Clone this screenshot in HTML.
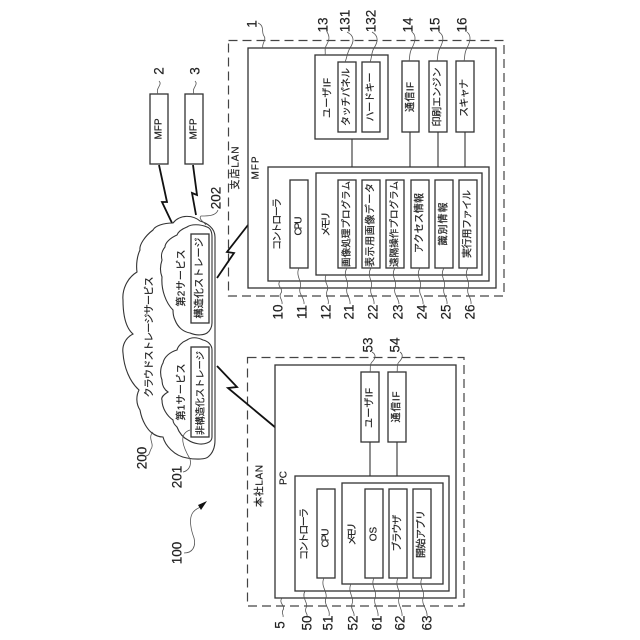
<!DOCTYPE html>
<html><head><meta charset="utf-8"><style>
html,body{margin:0;padding:0;background:#fff;width:640px;height:640px;overflow:hidden}
svg{display:block}
text{font-family:"Liberation Sans","Noto Sans CJK JP",sans-serif;font-size:10px;fill:#222;stroke:#222;stroke-width:.2;text-anchor:middle;dominant-baseline:central}
.n{font-size:13.5px}
.b{fill:#fff;stroke:#333;stroke-width:1.3}
.d{fill:none;stroke:#444;stroke-width:1.2;stroke-dasharray:9 5}
.l{fill:none;stroke:#333;stroke-width:1.1}
.s{fill:none;stroke:#555;stroke-width:.8}
.z{fill:none;stroke:#111;stroke-width:1.8}
.c{fill:#fff;stroke:#333;stroke-width:1.1}
</style></head><body>
<svg width="640" height="640" viewBox="0 0 640 640" xmlns="http://www.w3.org/2000/svg">
<rect class="d" x="228.500" y="40.500" width="275.500" height="255.500"/>
<rect class="d" x="247.500" y="357.500" width="216.500" height="248.500"/>
<polyline class="z" points="159,165 167,202 162,202 172,223"/>
<polyline class="z" points="193,165 197,195 192,193 196,215"/>
<polyline class="z" points="248,225 227,252 234,253 217,278"/>
<polyline class="z" points="217,366 237,387 228,388 276,428"/>
<rect class="b" x="150" y="94" width="18" height="70"/>
<rect class="b" x="185" y="94" width="18" height="70"/>
<text transform="translate(159,129) rotate(-90)">MFP</text>
<text transform="translate(194,129) rotate(-90)">MFP</text>
<path class="c" d="M215,440V237C215,228 207,223 200,221C193,215 180,214 173,223C163,223 155,226 153,230C145,236 139,245 140,250C137,256 136,265 137,272C127,278 122,290 123,300C123,315 126,328 133,334C125,338 122,346 123,353C124,368 130,382 139,390C136,396 136,404 140,410C142,422 148,430 152,433C156,436 160,437 163,437C165,445 174,456 187,458C197,460 206,459 208,457C213,453 215,447 215,440Z"/>
<path class="c" d="M212,323V237C212,231 210,228 207,227C200,224 191,224 187,227C182,229 178,232 177,235C170,238 165,243 165,247C161,252 161,256 162,260C160,266 160,272 162,277C161,290 166,303 173,310C173,314 174,318 175,320C178,328 184,332 190,333C197,336 204,335 207,333C210,331 212,327 212,323Z"/>
<path class="c" d="M212,437V350C212,345 208,341 203,340C197,337 191,337 187,340C182,342 178,346 177,350C170,352 164,357 163,363C160,368 160,375 162,380C162,386 165,390 168,392C163,395 161,398 162,400C162,408 167,416 173,420C173,423 175,425 177,427C180,435 184,438 188,440C194,444 202,445 207,443C210,442 212,440 212,437Z"/>
<rect class="b" x="191" y="234" width="18" height="89"/>
<rect class="b" x="191" y="347" width="18" height="90"/>
<text transform="translate(150,337) rotate(-90)" textLength="121" lengthAdjust="spacing">クラウドストレージサービス</text>
<text transform="translate(182,278) rotate(-90)" textLength="57" lengthAdjust="spacing">第2サービス</text>
<text transform="translate(182,392) rotate(-90)" textLength="57" lengthAdjust="spacing">第1サービス</text>
<text transform="translate(200,278) rotate(-90)" textLength="81" lengthAdjust="spacing">構造化ストレージ</text>
<text transform="translate(200,393) rotate(-90)" textLength="84" lengthAdjust="spacing" style="font-size:9.400px">非構造化ストレージ</text>
<text transform="translate(236,168) rotate(-90)" textLength="43" lengthAdjust="spacing">支店LAN</text>
<rect class="b" x="248" y="48" width="248" height="240"/>
<text transform="translate(256,168) rotate(-90)" textLength="23" lengthAdjust="spacing">MFP</text>
<path class="l" d="M352,139V167M410,132V167M438,132V167M465,132V167"/>
<rect class="b" x="315" y="55" width="73" height="84"/>
<rect class="b" x="338" y="62" width="18" height="70"/>
<rect class="b" x="362" y="62" width="18" height="70"/>
<rect class="b" x="402" y="61" width="17" height="71"/>
<rect class="b" x="429" y="61" width="18" height="71"/>
<rect class="b" x="456" y="61" width="18" height="71"/>
<rect class="b" x="268" y="167" width="221" height="114"/>
<rect class="b" x="290" y="180" width="18" height="88"/>
<rect class="b" x="316" y="173" width="166" height="102"/>
<rect class="b" x="338" y="180" width="18" height="88"/>
<rect class="b" x="362" y="180" width="18" height="88"/>
<rect class="b" x="386" y="180" width="18" height="88"/>
<rect class="b" x="411" y="180" width="18" height="88"/>
<rect class="b" x="435" y="180" width="18" height="88"/>
<rect class="b" x="459" y="180" width="18" height="88"/>
<text transform="translate(328,98) rotate(-90)" textLength="40" lengthAdjust="spacing">ユーザIF</text>
<text transform="translate(347,97) rotate(-90)" textLength="58" lengthAdjust="spacing">タッチパネル</text>
<text transform="translate(371,97) rotate(-90)" textLength="49" lengthAdjust="spacing">ハードキー</text>
<text transform="translate(411,97) rotate(-90)" textLength="30" lengthAdjust="spacing">通信IF</text>
<text transform="translate(438,97) rotate(-90)" textLength="59" lengthAdjust="spacing">印刷エンジン</text>
<text transform="translate(465,98) rotate(-90)" textLength="38" lengthAdjust="spacing">スキャナ</text>
<text transform="translate(278,224) rotate(-90)" textLength="52" lengthAdjust="spacing">コントローラ</text>
<text transform="translate(299,226) rotate(-90)" textLength="19" lengthAdjust="spacing">CPU</text>
<text transform="translate(327,224) rotate(-90)" textLength="25" lengthAdjust="spacing">メモリ</text>
<text transform="translate(347,224) rotate(-90)" textLength="86" lengthAdjust="spacing" style="font-size:9.500px">画像処理プログラム</text>
<text transform="translate(371,225) rotate(-90)" textLength="84" lengthAdjust="spacing">表示用画像データ</text>
<text transform="translate(395,224) rotate(-90)" textLength="86" lengthAdjust="spacing" style="font-size:9.500px">遠隔操作プログラム</text>
<text transform="translate(420,223) rotate(-90)" textLength="60" lengthAdjust="spacing">アクセス情報</text>
<text transform="translate(444,224) rotate(-90)" textLength="43" lengthAdjust="spacing">識別情報</text>
<text transform="translate(468,224) rotate(-90)" textLength="68" lengthAdjust="spacing">実行用ファイル</text>
<rect class="b" x="275" y="365" width="181" height="233"/>
<path class="l" d="M370,442V476M397,442V476"/>
<rect class="b" x="361" y="372" width="18" height="70"/>
<rect class="b" x="388" y="372" width="18" height="70"/>
<rect class="b" x="295" y="476" width="154" height="115"/>
<rect class="b" x="317" y="489" width="18" height="89"/>
<rect class="b" x="342" y="483" width="101" height="101"/>
<rect class="b" x="365" y="489" width="18" height="89"/>
<rect class="b" x="389" y="489" width="18" height="89"/>
<rect class="b" x="413" y="489" width="18" height="89"/>
<text transform="translate(260,486) rotate(-90)" textLength="42" lengthAdjust="spacing">本社LAN</text>
<text transform="translate(284,478) rotate(-90)">PC</text>
<text transform="translate(370,408) rotate(-90)" textLength="40" lengthAdjust="spacing">ユーザIF</text>
<text transform="translate(397,407) rotate(-90)" textLength="31" lengthAdjust="spacing">通信IF</text>
<text transform="translate(305,534) rotate(-90)" textLength="52" lengthAdjust="spacing">コントローラ</text>
<text transform="translate(326,538) rotate(-90)" textLength="19" lengthAdjust="spacing">CPU</text>
<text transform="translate(353,534) rotate(-90)" textLength="23" lengthAdjust="spacing">メモリ</text>
<text transform="translate(374,534) rotate(-90)">OS</text>
<text transform="translate(398,533) rotate(-90)" textLength="37" lengthAdjust="spacing">ブラウザ</text>
<text transform="translate(422,534) rotate(-90)" textLength="48" lengthAdjust="spacing">開始アプリ</text>
<g class="nums">
<text class="n" transform="translate(159,71) rotate(-90)">2</text>
<text class="n" transform="translate(195,71) rotate(-90)">3</text>
<text class="n" transform="translate(252,24) rotate(-90)">1</text>
<text class="n" transform="translate(323,25) rotate(-90)">13</text>
<text class="n" transform="translate(345,21) rotate(-90)">131</text>
<text class="n" transform="translate(371,21) rotate(-90)">132</text>
<text class="n" transform="translate(408,25) rotate(-90)">14</text>
<text class="n" transform="translate(435,25) rotate(-90)">15</text>
<text class="n" transform="translate(462,25) rotate(-90)">16</text>
<text class="n" transform="translate(278,312) rotate(-90)">10</text>
<text class="n" transform="translate(302,312) rotate(-90)">11</text>
<text class="n" transform="translate(326,312) rotate(-90)">12</text>
<text class="n" transform="translate(349,312) rotate(-90)">21</text>
<text class="n" transform="translate(373,312) rotate(-90)">22</text>
<text class="n" transform="translate(398,312) rotate(-90)">23</text>
<text class="n" transform="translate(422,312) rotate(-90)">24</text>
<text class="n" transform="translate(446,312) rotate(-90)">25</text>
<text class="n" transform="translate(470,312) rotate(-90)">26</text>
<text class="n" transform="translate(280,625) rotate(-90)">5</text>
<text class="n" transform="translate(307,623) rotate(-90)">50</text>
<text class="n" transform="translate(328,623) rotate(-90)">51</text>
<text class="n" transform="translate(353,623) rotate(-90)">52</text>
<text class="n" transform="translate(377,623) rotate(-90)">61</text>
<text class="n" transform="translate(400,623) rotate(-90)">62</text>
<text class="n" transform="translate(427,623) rotate(-90)">63</text>
<text class="n" transform="translate(368,345) rotate(-90)">53</text>
<text class="n" transform="translate(395,345) rotate(-90)">54</text>
<text class="n" transform="translate(142,458) rotate(-90)">200</text>
<text class="n" transform="translate(177,477) rotate(-90)">201</text>
<text class="n" transform="translate(216,198) rotate(-90)">202</text>
<text class="n" transform="translate(177,553) rotate(-90)">100</text>
</g>
<g class="s">
<path class="s" d="M258,23C265,26 261,32 264,36C267,40 261,44 263,48"/>
<path class="s" d="M327,32C331,38 328,42 326,46C324,50 326,52 325,55"/>
<path class="s" d="M347,32C355,36 354,42 350,48C347,53 347,58 345,62"/>
<path class="s" d="M372,32C379,36 378,42 374,48C371,53 372,58 370,62"/>
<path class="s" d="M412,32C417,36 415,42 412,48C409,53 410,58 409,61"/>
<path class="s" d="M439,32C445,36 443,42 440,48C437,53 438,58 437,61"/>
<path class="s" d="M467,32C472,36 470,42 467,48C464,53 465,58 464,61"/>
<path class="s" d="M280,281C276,286 284,289 281,293C278,297 283,300 282,304"/>
<path class="s" d="M299,268C295,276 303,282 300,288C298,294 305,298 304,304"/>
<path class="s" d="M326,275C323,282 330,286 327,291C325,296 330,300 328,304"/>
<path class="s" d="M347,268C342,276 350,282 347,288C345,294 351,298 350,304"/>
<path class="s" d="M371,268C366,276 374,282 371,288C369,294 375,298 374,304"/>
<path class="s" d="M395,268C390,276 398,282 395,288C393,294 399,298 399,304"/>
<path class="s" d="M420,268C415,276 423,282 420,288C418,294 424,298 423,304"/>
<path class="s" d="M444,268C439,276 447,282 444,288C442,294 448,298 447,304"/>
<path class="s" d="M468,268C463,276 471,282 468,288C466,294 472,298 471,304"/>
<path class="s" d="M282,598C278,603 286,606 283,610C281,613 284,615 283,617"/>
<path class="s" d="M305,591C301,598 309,603 306,608C304,612 308,614 307,616"/>
<path class="s" d="M324,578C320,586 328,592 326,598C323,604 331,610 329,616"/>
<path class="s" d="M351,584C347,592 355,598 352,604C350,609 355,612 354,616"/>
<path class="s" d="M374,578C370,586 378,592 375,598C373,604 379,610 378,616"/>
<path class="s" d="M398,578C394,586 402,592 399,598C397,604 403,610 402,616"/>
<path class="s" d="M422,578C418,586 426,592 423,598C421,604 428,610 427,616"/>
<path class="s" d="M372,352C377,355 375,359 372,362C369,365 371,369 370,372"/>
<path class="s" d="M400,352C404,355 402,359 399,362C396,365 398,369 397,372"/>
<path class="s" d="M159,81C163,85 155,88 158,94"/>
<path class="s" d="M195,81C199,85 191,88 194,94"/>
<path class="s" d="M153,432C147,438 155,444 151,449C149,453 150,455 146,456"/>
<path class="s" d="M190,430C178,434 183,447 190,459C192,466 188,471 183,472"/>
<path class="s" d="M218,210C216,216 208,216 201,216C198,219 204,222 206,225"/>
<path class="s" d="M184,553C193,553 196,546 194,538C191,530 189,520 192,514C194,510 198,508 201,507"/>
</g>
<polygon points="207,501 198,505 201,510" fill="#111"/>
</svg>
</body></html>
